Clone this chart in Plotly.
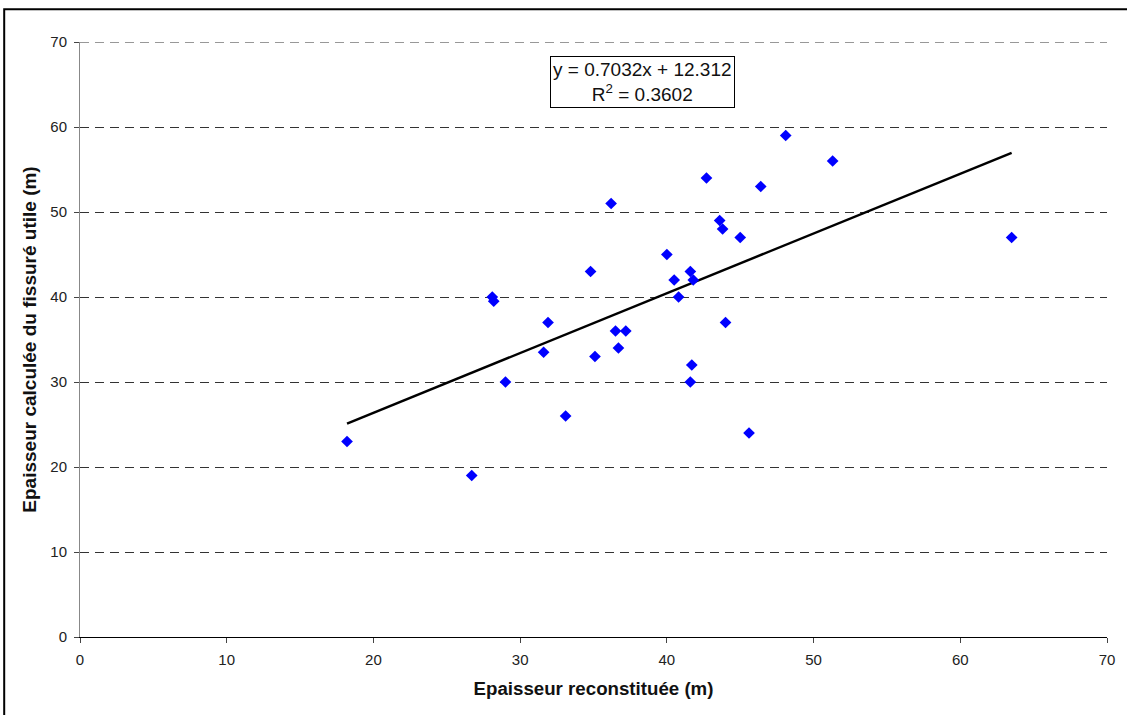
import plotly.graph_objects as go

# Measured thickness pairs (m)
epaisseur_reconstituee = [
    18.2, 26.7, 28.1, 28.2, 29.0, 31.6, 31.9, 33.1, 34.8, 35.1, 36.2,
    36.5, 36.7, 37.2, 40.0, 40.5, 40.8, 41.6, 41.6, 41.7, 41.8, 42.7,
    43.6, 43.8, 44.0, 45.0, 45.6, 46.4, 48.1, 51.3, 63.5,
]
epaisseur_calculee = [
    23.0, 19.0, 40.0, 39.5, 30.0, 33.5, 37.0, 26.0, 43.0, 33.0, 51.0,
    36.0, 34.0, 36.0, 45.0, 42.0, 40.0, 43.0, 30.0, 32.0, 42.0, 54.0,
    49.0, 48.0, 37.0, 47.0, 24.0, 53.0, 59.0, 56.0, 47.0,
]

# Linear trend coefficients
pente = 0.7032
ordonnee = 12.312
r2 = 0.3602

x_ticks = [0, 10, 20, 30, 40, 50, 60, 70]
y_ticks = [0, 10, 20, 30, 40, 50, 60, 70]

x_min, x_max = min(epaisseur_reconstituee), max(epaisseur_reconstituee)
trend_x = [x_min, x_max]
trend_y = [pente * v + ordonnee for v in trend_x]

fig = go.Figure()

fig.add_trace(go.Scatter(
    x=trend_x, y=trend_y, mode="lines",
    line=dict(color="black", width=2.5),
    hoverinfo="skip", showlegend=False,
))

fig.add_trace(go.Scatter(
    x=epaisseur_reconstituee, y=epaisseur_calculee, mode="markers",
    marker=dict(symbol="diamond", size=9, color="#0000FF", line=dict(width=0)),
    showlegend=False,
))

font_family = "Liberation Sans, Arial, sans-serif"
grid_dash = "9px,6px"

fig.update_layout(
    width=1127, height=715,
    margin=dict(l=80, r=17, t=42, b=78),
    paper_bgcolor="white", plot_bgcolor="white",
    font=dict(family=font_family, size=15, color="#222"),
    xaxis=dict(
        range=[0, 70], tickvals=x_ticks, ticktext=[str(v) for v in x_ticks],
        showgrid=False, zeroline=False,
        showline=True, linecolor="black", linewidth=1,
        ticks="outside", ticklen=5, tickcolor="#444",
        ticklabelstandoff=4,
        tickfont=dict(size=15, color="#222"),
        title=dict(text="<b>Epaisseur reconstituée (m)</b>",
                   font=dict(size=18.7, color="#111"), standoff=14),
    ),
    yaxis=dict(
        range=[0, 70], tickvals=y_ticks, ticktext=[str(v) for v in y_ticks],
        showgrid=True, gridcolor="#333", gridwidth=1, griddash=grid_dash,
        zeroline=False,
        showline=True, linecolor="#888", linewidth=1,
        ticks="outside", ticklen=5, tickcolor="#444",
        ticklabelstandoff=4,
        tickfont=dict(size=15, color="#222"),
        title=dict(text="<b>Epaisseur calculée du fissuré utile (m)</b>",
                   font=dict(size=19, color="#111"), standoff=8),
    ),
    annotations=[dict(
        xref="paper", yref="paper",
        x=(644 - 80) / 1029.7, y=(637.3 - 82) / 595.6,
        xanchor="center", yanchor="middle",
        text=f"y = {pente}x + {ordonnee}<br>R<sup>2</sup> = {r2}",
        showarrow=False, align="center",
        font=dict(family=font_family, size=19, color="#111"),
        bgcolor="white", bordercolor="black", borderwidth=1, borderpad=2,
    )],
    shapes=[
        # top gridline at the upper bound of the y range
        dict(type="line", xref="paper", yref="y",
             x0=0, x1=1, y0=y_ticks[-1], y1=y_ticks[-1],
             line=dict(color="#333", width=1, dash=grid_dash), layer="below"),
        # outer chart frame
        dict(type="rect", xref="paper", yref="paper",
             x0=(4 - 80) / 1029.7, x1=(1140 - 80) / 1029.7,
             y0=(637.3 - 730) / 595.6, y1=(637.3 - 9) / 595.6,
             line=dict(color="black", width=2), layer="below"),
    ],
)

fig.write_html("out.html")
